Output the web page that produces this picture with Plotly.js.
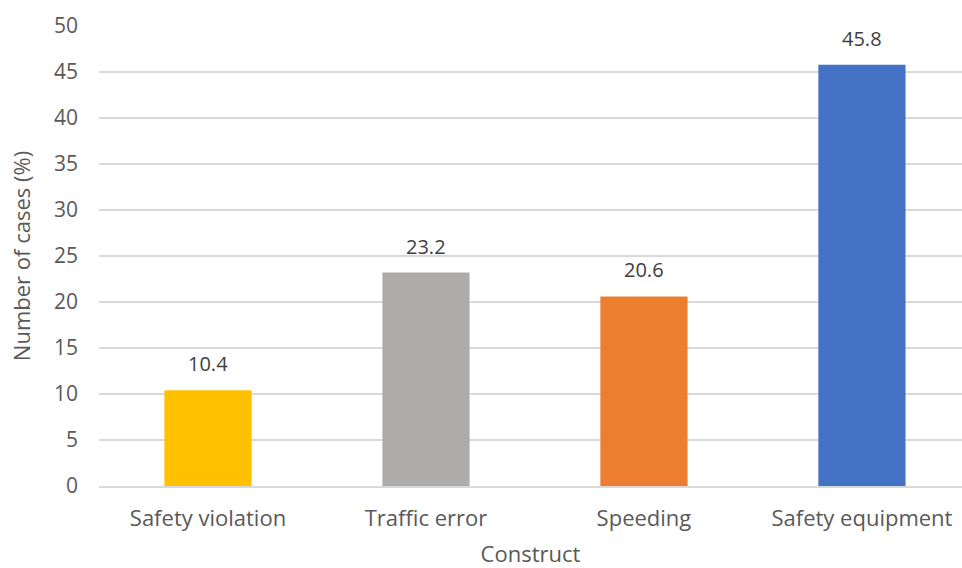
<!DOCTYPE html>
<html><head><meta charset="utf-8">
<script src="https://cdn.plot.ly/plotly-3.0.1.min.js"></script>
<style>html,body{margin:0;padding:0;background:#fff}#c{width:962px;height:568px}</style>
</head><body><div id="c"></div>
<script>
const categories = ["Safety violation", "Traffic error", "Speeding", "Safety equipment"];
const values = [10.4, 23.2, 20.6, 45.8];
const colors = ["#FFC000", "#AEABAB", "#ED7D31", "#4472C4"];
const yTicks = [0, 5, 10, 15, 20, 25, 30, 35, 40, 45, 50];

const font = "Open Sans, Noto Sans, sans-serif";
const trace = {
  type: "bar", x: categories, y: values, width: 0.4,
  marker: {color: colors, line: {width: 0}},
  hoverinfo: "skip"
};
const annotations = categories.map((c, i) => ({
  x: c, y: values[i], xref: "x", yref: "y", text: values[i].toFixed(1),
  showarrow: false, yanchor: "bottom", yshift: 11,
  font: {family: font, size: 20, color: "#404040"}
}));
const layout = {
  width: 962, height: 568,
  margin: {l: 99, r: 0, t: 26, b: 82},
  paper_bgcolor: "#fff", plot_bgcolor: "#fff",
  showlegend: false, bargap: 0.6,
  font: {family: font, color: "#595959"},
  xaxis: {
    range: [-0.5, 3.459], type: "category",
    showline: true, linecolor: "#D9D9D9", linewidth: 1.5,
    ticks: "", showgrid: false, zeroline: false,
    ticklabelstandoff: 12,
    tickfont: {family: font, size: 22, color: "#595959"},
    title: {text: "Construct", font: {family: font, size: 22, color: "#595959"}, standoff: 25}
  },
  yaxis: {
    range: [0, 50], tickvals: yTicks, ticktext: yTicks.map(String),
    showgrid: true, gridcolor: "#D9D9D9", gridwidth: 1.5,
    zeroline: false, showline: false, ticks: "", ticklen: 0,
    ticklabelstandoff: 20,
    tickfont: {family: font, size: 21, color: "#595959"},
    title: {text: "Number of cases (%)", font: {family: font, size: 22, color: "#595959"}, standoff: 17}
  },
  annotations: annotations
};
Plotly.newPlot("c", [trace], layout, {displayModeBar: false, staticPlot: true});
</script></body></html>
